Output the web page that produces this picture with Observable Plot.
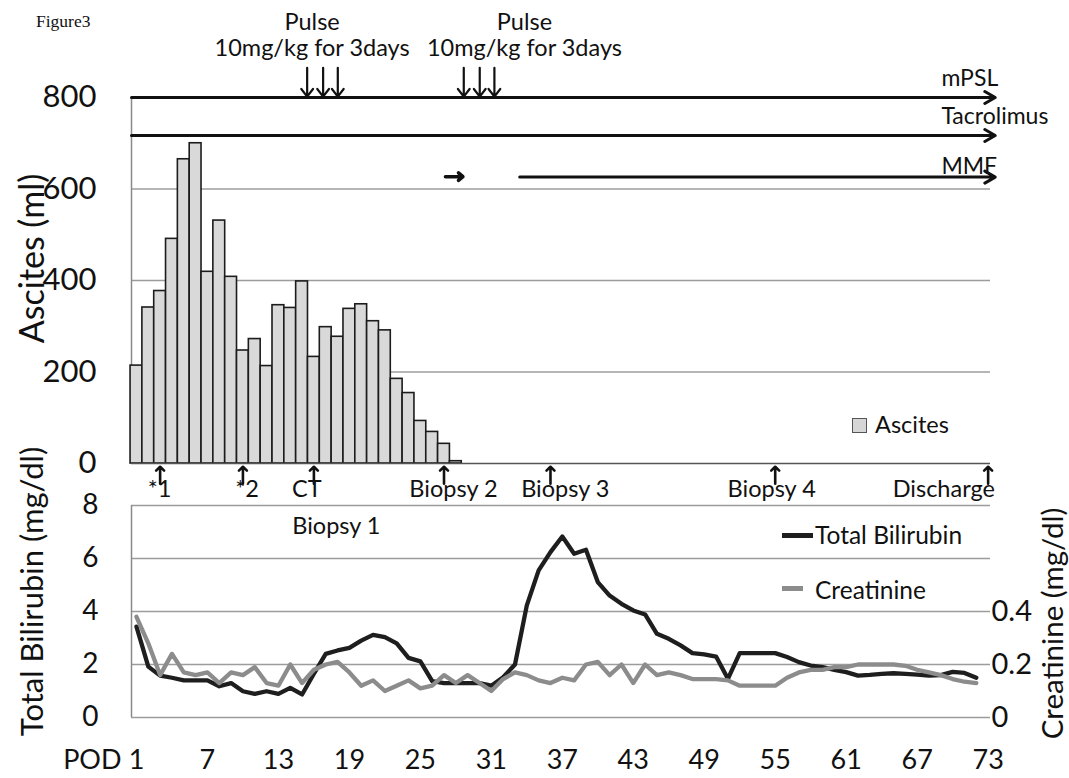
<!DOCTYPE html>
<html><head><meta charset="utf-8">
<script src="https://cdn.jsdelivr.net/npm/d3@7"></script>
<script src="https://cdn.jsdelivr.net/npm/@observablehq/plot@0.6"></script>
<style>
body{margin:0;background:#fff;overflow:hidden;}
#wrap{position:relative;width:1069px;height:778px;font-family:Lato,sans-serif;color:#111;}
#topPanel{position:absolute;left:0;top:0;}
#bottomPanel{position:absolute;left:0;top:500px;}
.lab{position:absolute;line-height:1;white-space:nowrap;}
</style></head><body>
<div id="wrap">
<div id="topPanel"></div><div id="bottomPanel"></div>
<div class="lab" style="left:36px;top:13px;font-family:'Liberation Serif',serif;font-size:17.5px">Figure3</div>
<div class="lab" style="left:852px;top:418px;width:15px;height:15px;box-sizing:border-box;background:#d6d6d6;border:1.5px solid #555"></div>
<div class="lab" style="left:875px;top:412.5px;font-size:23.5px">Ascites</div>
<div class="lab" style="left:782px;top:533px;width:31px;height:5px;background:#1e1e1e"></div>
<div class="lab" style="left:815px;top:523.3px;font-size:24.5px">Total Bilirubin</div>
<div class="lab" style="left:782px;top:585.5px;width:21px;height:5px;background:#8c8c8c"></div>
<div class="lab" style="left:815px;top:578.3px;font-size:24.5px">Creatinine</div>
</div>
<script>
// ---- data ----
const ascites = [214, 341, 377, 491, 665, 700, 419, 531, 408, 247, 272, 213, 346, 340, 398, 233, 298, 277, 338, 348, 311, 291, 185, 154, 93, 69, 43, 5];
const bilirubin = [3.43,1.92,1.58,1.5,1.4,1.4,1.4,1.18,1.3,0.99,
  0.89,0.99,0.89,1.12,0.87,1.65,2.4,2.53,2.63,2.9,
  3.12,3.03,2.8,2.25,2.12,1.37,1.3,1.3,1.3,1.3,
  1.2,1.52,2.0,4.23,5.55,6.24,6.83,6.18,6.33,5.11,
  4.6,4.29,4.04,3.89,3.16,2.97,2.72,2.43,2.38,2.3,
  1.46,2.43,2.43,2.43,2.43,2.28,2.09,1.96,1.9,1.8,
  1.71,1.58,1.61,1.65,1.67,1.65,1.62,1.58,1.6,1.72,1.68,1.5];
const creatinine = [0.38,0.28,0.16,0.24,0.17,0.16,0.17,0.13,0.17,0.16,
  0.19,0.13,0.12,0.20,0.13,0.18,0.20,0.21,0.17,0.12,
  0.14,0.10,0.12,0.14,0.11,0.12,0.16,0.13,0.16,0.13,
  0.10,0.145,0.17,0.16,0.14,0.13,0.15,0.14,0.20,0.21,
  0.16,0.20,0.13,0.20,0.16,0.17,0.16,0.145,0.145,0.145,
  0.14,0.12,0.12,0.12,0.12,0.15,0.17,0.18,0.18,0.19,
  0.19,0.20,0.20,0.20,0.20,0.195,0.18,0.17,0.16,0.145,0.135,0.13];
const podTicks = [1, 7, 13, 19, 25, 31, 37, 43, 49, 55, 61, 67, 73];
const ascitesTicks = [0, 200, 400, 600, 800];
const biliTicks = [0, 2, 4, 6, 8];
const creaTicks = [0, 0.2, 0.4];
const events = [
  {label: "*1", day: 3, labelDay: 2.95},
  {label: "*2", day: 10, labelDay: 10.35},
  {label: "CT", day: 16, labelDay: 15.4},
  {label: "Biopsy 2", day: 27, labelDay: 27.8},
  {label: "Biopsy 3", day: 36, labelDay: 37.25},
  {label: "Biopsy 4", day: 55, labelDay: 54.7},
  {label: "Discharge", day: 73, labelDay: 69.25}
];
const biopsy1 = [{label: "Biopsy 1", day: 17.9, value: 7.2}];
const pulseDays = [15.43, 16.78, 18.02, 28.67, 30.02, 31.26];
const pulseLabels = [{day: 15.85}, {day: 33.8}];
const treatments = [
  {name: "mPSL", start: 0.58, end: 73.6, lane: 800, labelY: 842},
  {name: "Tacrolimus", start: 0.58, end: 73.6, lane: 717, labelY: 758},
  {name: "MMF", start: 33.4, end: 73.6, lane: 626, labelY: 649}
];
const mmfShort = [{start: 27.12, end: 28.6, lane: 627}];
const treatmentLabelDay = 69.05;
const xDomain = [0.58, 73.2];

// ---- tables ----
const ascTable = ascites.map((v, i) => ({day: i + 1, value: v}));
const biliTable = bilirubin.map((v, i) => ({day: i + 1, value: v}));
const creaTable = creatinine.map((v, i) => ({day: i + 1, value: v}));
const creaToBili = 10; // secondary axis: 0.4 mg/dl aligns with 4 mg/dl

const font = "Lato, sans-serif";

const topChart = Plot.plot({
  width: 1069, height: 500,
  marginLeft: 131, marginRight: 79, marginTop: 97, marginBottom: 37,
  x: {domain: xDomain, axis: null},
  y: {domain: [0, 800], axis: null},
  style: {fontFamily: font, fontSize: "23px", background: "transparent", color: "#111", overflow: "visible"},
  marks: [
    Plot.ruleY([200, 400, 600], {stroke: "#9c9c9c", strokeWidth: 1.5}),
    Plot.ruleX([xDomain[0]], {stroke: "#8a8a8a", strokeWidth: 1.5}),
    Plot.rectY(ascTable, {x1: d => d.day - 0.5, x2: d => d.day + 0.5, y1: 0, y2: "value", fill: "#d9d9d9", stroke: "#1c1c1c", strokeWidth: 1.6}),
    Plot.ruleY([0], {stroke: "#555", strokeWidth: 1.6}),
    Plot.axisY({ticks: ascitesTicks, tickSize: 0, tickPadding: 35, fontSize: 31, label: null}),
    Plot.text(["Ascites (ml)"], {frameAnchor: "left", textAnchor: "middle", lineAnchor: "middle", rotate: -90, dx: -98, dy: -22, fontSize: 34}),
    Plot.arrow(treatments, {x1: "start", x2: "end", y1: "lane", y2: "lane", stroke: "#111", strokeWidth: 3, headLength: 6, headAngle: 60}),
    Plot.arrow(mmfShort, {x1: "start", x2: "end", y1: "lane", y2: "lane", stroke: "#111", strokeWidth: 3.5, headLength: 5, headAngle: 80}),
    Plot.text(treatments, {x: () => treatmentLabelDay, y: "labelY", text: "name", textAnchor: "start", fontSize: 23}),
    Plot.arrow(pulseDays, {x1: d => d, x2: d => d, y1: 865, y2: 802, stroke: "#111", strokeWidth: 2.2, headLength: 7.5, headAngle: 75}),
    Plot.text(pulseLabels, {x: "day", y: 964, text: () => "Pulse", fontSize: 23.5}),
    Plot.text(pulseLabels, {x: "day", y: 908, text: () => "10mg/kg for 3days", fontSize: 23.5}),
    Plot.arrow(events, {x1: "day", x2: "day", y1: -44, y2: -7, stroke: "#111", strokeWidth: 2.6, headLength: 5, headAngle: 90}),
    Plot.text(events, {x: "labelDay", y: -57.5, text: "label", fontSize: 23.5})
  ]
});
document.getElementById("topPanel").appendChild(topChart);

const bottomChart = Plot.plot({
  width: 1069, height: 278,
  marginLeft: 131, marginRight: 79, marginTop: 5, marginBottom: 61,
  x: {domain: xDomain, axis: null},
  y: {domain: [0, 8], axis: null},
  style: {fontFamily: font, fontSize: "23px", background: "transparent", color: "#111", overflow: "visible"},
  marks: [
    Plot.ruleY(biliTicks, {stroke: "#9c9c9c", strokeWidth: 1.5}),
    Plot.ruleX([xDomain[0]], {stroke: "#8a8a8a", strokeWidth: 1.5}),
    Plot.lineY(biliTable, {x: "day", y: "value", stroke: "#1e1e1e", strokeWidth: 4.3, strokeLinejoin: "round"}),
    Plot.lineY(creaTable, {x: "day", y: d => d.value * creaToBili, stroke: "#8c8c8c", strokeWidth: 4.3, strokeLinejoin: "round"}),
    Plot.axisY({ticks: biliTicks, tickSize: 0, tickPadding: 33, fontSize: 28, label: null}),
    Plot.axisY({anchor: "right", ticks: creaTicks.map(v => v * creaToBili), tickFormat: v => String(+(v / creaToBili).toFixed(1)), tickSize: 0, tickPadding: 1, fontSize: 29, label: null}),
    Plot.axisX({ticks: podTicks, tickSize: 0, tickPadding: 32, fontSize: 27, label: null}),
    Plot.text(["POD"], {frameAnchor: "bottom-left", dx: -10, dy: 32, textAnchor: "end", lineAnchor: "top", fontSize: 27}),
    Plot.text(biopsy1, {x: "day", y: "value", text: "label", fontSize: 23.5}),
    Plot.text(["Total Bilirubin (mg/dl)"], {frameAnchor: "left", textAnchor: "middle", lineAnchor: "middle", rotate: -90, dx: -98.5, dy: -20, fontSize: 31}),
    Plot.text(["Creatinine (mg/dl)"], {frameAnchor: "right", textAnchor: "middle", lineAnchor: "middle", rotate: -90, dx: 63, dy: 12, fontSize: 29.5})
  ]
});
document.getElementById("bottomPanel").appendChild(bottomChart);
</script>
</body></html>
